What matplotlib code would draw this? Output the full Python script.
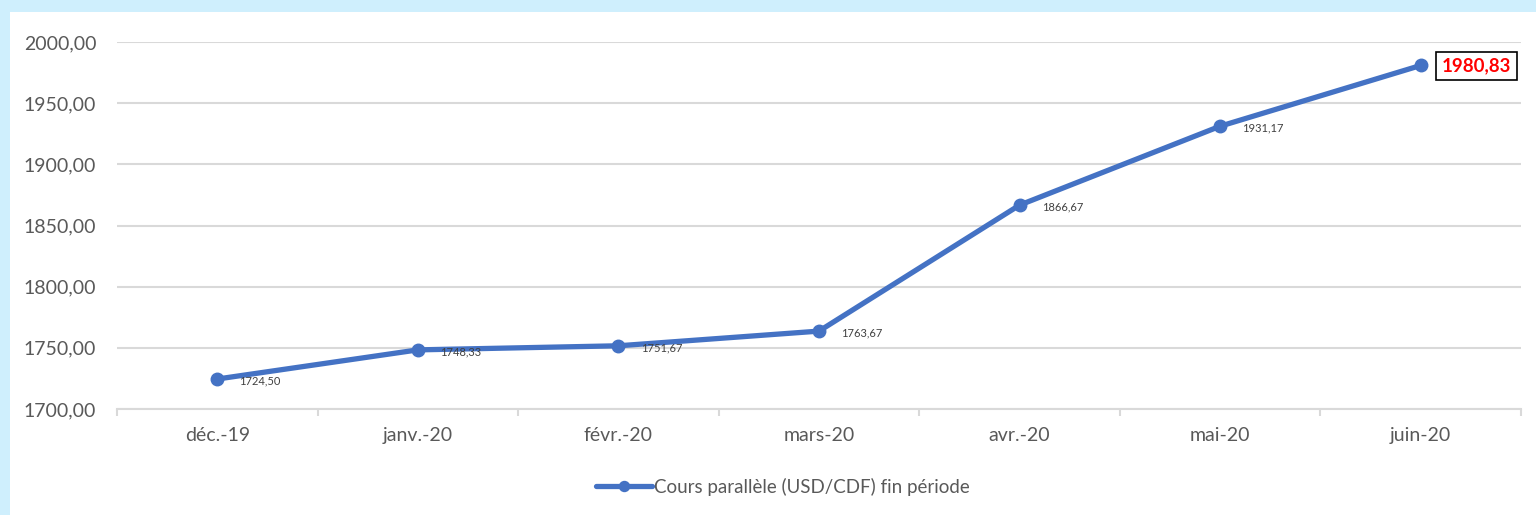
import numpy as np
import matplotlib
matplotlib.use('Agg')
import matplotlib.pyplot as plt
from matplotlib.patches import Rectangle

months = ['déc.-19', 'janv.-20', 'févr.-20', 'mars-20', 'avr.-20', 'mai-20', 'juin-20']
cours = [1724.50, 1748.33, 1751.67, 1763.67, 1866.67, 1931.17, 1980.83]
serie_label = 'Cours parallèle (USD/CDF) fin période'

def fr(v):
    return f'{v:.2f}'.replace('.', ',')

plt.rcParams['font.family'] = ['Lato', 'DejaVu Sans']

blue = '#4472C4'
grey_txt = '#595959'
grid_col = '#D9D9D9'

fig = plt.figure(figsize=(15.36, 5.15), dpi=100)
fig.patch.set_facecolor('#CFEFFD')
fig.add_artist(Rectangle((10 / 1536, 0), 1, 1 - 12 / 515, transform=fig.transFigure,
                         facecolor='white', edgecolor='none', zorder=0))

ax = fig.add_axes([117 / 1536, 1 - 409 / 515, 1404 / 1536, 367 / 515])
ax.set_facecolor('none')

x = np.arange(len(months))
line, = ax.plot(x, cours, color=blue, lw=3.8, marker='o', markersize=9,
                solid_capstyle='round', label=serie_label, zorder=3)

# data labels
for xi, v in zip(x[:-1], cours[:-1]):
    ax.annotate(fr(v), (xi, v), xytext=(16, -1.5), textcoords='offset points',
                ha='left', va='center', fontsize=8, color='#404040', zorder=4)
ax.annotate(fr(cours[-1]), (x[-1], cours[-1]), xytext=(15, -0.5), textcoords='offset points',
            ha='left', va='center', fontsize=13.5, fontweight='bold', color='red',
            bbox=dict(boxstyle='square,pad=0.3', fc='white', ec='black', lw=1.2), zorder=4)

ax.set_xlim(-0.5, len(months) - 0.5)
ax.set_ylim(1700, 2000)
ax.set_yticks(np.arange(1700, 2001, 50))
ax.set_yticklabels([fr(t) for t in np.arange(1700, 2001, 50)])
ax.set_xticks(x)
ax.set_xticklabels(months)
ax.set_xticks(np.arange(-0.5, len(months)), minor=True)

ax.yaxis.grid(True, color=grid_col, lw=1.5, zorder=0)
ax.set_axisbelow(True)
for s in ['top', 'right', 'left']:
    ax.spines[s].set_visible(False)
ax.spines['bottom'].set_color(grid_col)
ax.spines['bottom'].set_linewidth(1.5)

ax.tick_params(axis='y', length=0, pad=15, labelsize=14, labelcolor=grey_txt)
ax.tick_params(axis='x', which='major', length=0, pad=13, labelsize=14, labelcolor=grey_txt)
ax.tick_params(axis='x', which='minor', length=5, width=1.5, color=grid_col)

fig.legend(handles=[line], loc='center', bbox_to_anchor=(783 / 1536, 1 - 487 / 515),
           frameon=False, fontsize=13.5, labelcolor=grey_txt, handlelength=3.0,
           handletextpad=0.1, markerscale=0.8)

fig.savefig('out.png', dpi=100, facecolor=fig.get_facecolor())
